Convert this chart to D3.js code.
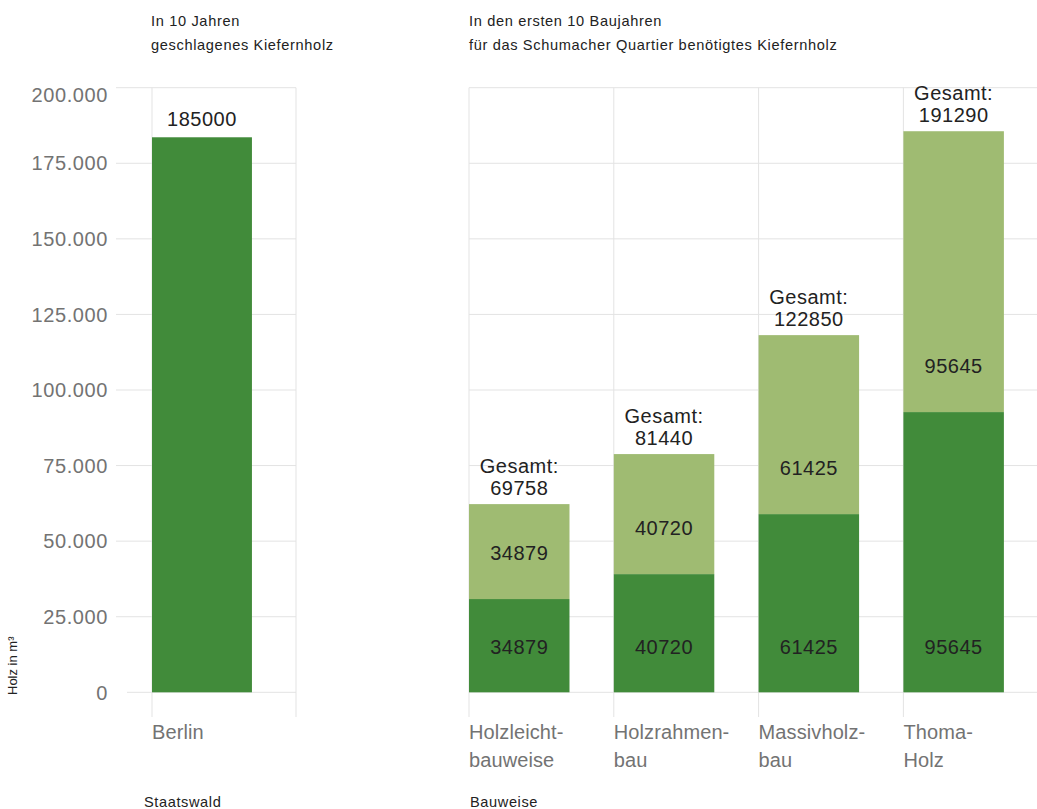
<!DOCTYPE html>
<html>
<head>
<meta charset="utf-8">
<script src="https://cdn.jsdelivr.net/npm/d3@7"></script>
<style>
  html, body { margin: 0; padding: 0; background: #fff; }
  svg { display: block; font-family: "Liberation Sans", Arial, sans-serif; }
</style>
</head>
<body>
<svg id="chart" width="1037" height="809"></svg>
<script>
// ---- data ----
const leftCategories = ["Berlin"];
const leftValues = [183600];           // bar height as drawn
const leftLabels = ["185000"];

const rightCategories = ["Holzleicht-\nbauweise", "Holzrahmen-\nbau", "Massivholz-\nbau", "Thoma-\nHolz"];
const lowerValues = [30850, 39100, 58950, 92700];  // dark segment, as drawn
const upperValues = [31400, 39700, 59200, 92900];  // light segment, as drawn
const lowerLabels = ["34879", "40720", "61425", "95645"];
const upperLabels = ["34879", "40720", "61425", "95645"];
const totalLabels = ["69758", "81440", "122850", "191290"];

const yTicks = [0, 25000, 50000, 75000, 100000, 125000, 150000, 175000, 200000];

const leftTitle = ["In 10 Jahren", "geschlagenes Kiefernholz"];
const rightTitle = ["In den ersten 10 Baujahren", "für das Schumacher Quartier benötigtes Kiefernholz"];
const leftXTitle = "Staatswald";
const rightXTitle = "Bauweise";
const yTitle = "Holz in m³";

// ---- styles ----
const darkGreen = "#418b3a";
const lightGreen = "#9fbb72";
const gridColor = "#e3e3e3";
const tickColor = "#737373";
const textColor = "#222";

const svg = d3.select("#chart");
const de = d3.formatLocale({decimal: ",", thousands: ".", grouping: [3], currency: ["", " €"]});
const fmt = de.format(",.0f");

const y = d3.scaleLinear().domain([0, 200000]).range([692.3, 87.7]);

const xLeft = d3.scaleBand().domain(leftCategories).range([152, 296]).paddingInner(0).paddingOuter(0);
const xRight = d3.scaleBand().domain(rightCategories).range([469, 469 + 4 * 144.8]).paddingInner(0).paddingOuter(0);
const barFrac = 0.694;

// ---- grid: left panel ----
const gLeft = svg.append("g");
gLeft.selectAll("line.h").data(yTicks).join("line")
  .attr("x1", d => d === 0 ? 127 : 116).attr("x2", 296)
  .attr("y1", d => y(d)).attr("y2", d => y(d))
  .attr("stroke", gridColor).attr("stroke-width", 1);
gLeft.selectAll("line.v").data([152, 296]).join("line")
  .attr("x1", d => d).attr("x2", d => d)
  .attr("y1", y(200000)).attr("y2", 717)
  .attr("stroke", gridColor).attr("stroke-width", 1);

// ---- grid: right panel ----
const gRight = svg.append("g");
const rightEdge = xRight.range()[1];
gRight.selectAll("line.h").data(yTicks).join("line")
  .attr("x1", 469).attr("x2", rightEdge)
  .attr("y1", d => y(d)).attr("y2", d => y(d))
  .attr("stroke", gridColor).attr("stroke-width", 1);
gRight.selectAll("line.v").data(rightCategories.map(c => xRight(c)).concat([rightEdge])).join("line")
  .attr("x1", d => d).attr("x2", d => d)
  .attr("y1", y(200000)).attr("y2", 717)
  .attr("stroke", gridColor).attr("stroke-width", 1);

// ---- y tick labels ----
const yMax = y.domain()[1];
svg.append("g").selectAll("text").data(yTicks).join("text")
  .attr("x", 108).attr("y", d => y(d) + (d === yMax ? 7 : 0))
  .attr("dy", "0.36em")
  .attr("text-anchor", "end")
  .attr("font-size", 20).attr("letter-spacing", 0.6)
  .attr("fill", tickColor)
  .text(d => fmt(d));

// ---- left bars ----
const bwL = xLeft.bandwidth() * barFrac;
svg.append("g").selectAll("rect").data(leftCategories).join("rect")
  .attr("x", d => xLeft(d)).attr("width", bwL)
  .attr("y", (d, i) => y(leftValues[i]))
  .attr("height", (d, i) => y(0) - y(leftValues[i]))
  .attr("fill", darkGreen);
svg.append("g").selectAll("text").data(leftCategories).join("text")
  .attr("x", d => xLeft(d) + bwL / 2)
  .attr("y", (d, i) => y(leftValues[i]) - 11)
  .attr("text-anchor", "middle").attr("font-size", 20).attr("letter-spacing", 0.5)
  .attr("fill", textColor)
  .text((d, i) => leftLabels[i]);

// ---- right stacked bars ----
const bwR = xRight.bandwidth() * barFrac;
const gBars = svg.append("g");
gBars.selectAll("rect.lower").data(rightCategories).join("rect")
  .attr("class", "lower")
  .attr("x", d => xRight(d)).attr("width", bwR)
  .attr("y", (d, i) => y(lowerValues[i]))
  .attr("height", (d, i) => y(0) - y(lowerValues[i]))
  .attr("fill", darkGreen);
gBars.selectAll("rect.upper").data(rightCategories).join("rect")
  .attr("class", "upper")
  .attr("x", d => xRight(d)).attr("width", bwR)
  .attr("y", (d, i) => y(lowerValues[i] + upperValues[i]))
  .attr("height", (d, i) => y(lowerValues[i]) - y(lowerValues[i] + upperValues[i]))
  .attr("fill", lightGreen);

// segment labels
gBars.selectAll("text.lowerlab").data(rightCategories).join("text")
  .attr("x", d => xRight(d) + bwR / 2)
  .attr("y", y(0) - 46).attr("dy", "0.36em")
  .attr("text-anchor", "middle").attr("font-size", 20).attr("letter-spacing", 0.5)
  .attr("fill", textColor)
  .text((d, i) => lowerLabels[i]);
gBars.selectAll("text.upperlab").data(rightCategories).join("text")
  .attr("x", d => xRight(d) + bwR / 2)
  .attr("y", (d, i) => y(lowerValues[i]) - 46).attr("dy", "0.36em")
  .attr("text-anchor", "middle").attr("font-size", 20).attr("letter-spacing", 0.5)
  .attr("fill", textColor)
  .text((d, i) => upperLabels[i]);
// totals
rightCategories.forEach((c, i) => {
  const top = y(lowerValues[i] + upperValues[i]);
  const t = gBars.append("text")
    .attr("x", xRight(c) + bwR / 2)
    .attr("text-anchor", "middle").attr("font-size", 20).attr("letter-spacing", 0.5)
    .attr("fill", textColor);
  t.append("tspan").attr("x", xRight(c) + bwR / 2).attr("y", top - 31).text("Gesamt:");
  t.append("tspan").attr("x", xRight(c) + bwR / 2).attr("y", top - 9.5).text(totalLabels[i]);
});

// ---- category labels ----
function catLabels(scale, cats) {
  cats.forEach(c => {
    const lines = c.split("\n");
    const t = svg.append("text").attr("font-size", 20).attr("letter-spacing", 0.1).attr("fill", tickColor);
    lines.forEach((ln, k) => {
      t.append("tspan").attr("x", scale(c)).attr("y", 739 + k * 27.5).text(ln);
    });
  });
}
catLabels(xLeft, leftCategories);
catLabels(xRight, rightCategories);

// ---- panel titles ----
function title(lines, x) {
  lines.forEach((ln, k) => {
    svg.append("text").attr("x", x).attr("y", 26 + k * 24)
      .attr("font-size", 14.6).attr("letter-spacing", 0.65).attr("fill", textColor).text(ln);
  });
}
title(leftTitle, 151);
title(rightTitle, 469);

// ---- axis titles ----
svg.append("text").attr("x", 144).attr("y", 807)
  .attr("font-size", 14.6).attr("letter-spacing", 0.6).attr("fill", textColor).text(leftXTitle);
svg.append("text").attr("x", 470).attr("y", 807)
  .attr("font-size", 14.6).attr("letter-spacing", 0.6).attr("fill", textColor).text(rightXTitle);
svg.append("text")
  .attr("transform", "translate(17,695) rotate(-90)")
  .attr("font-size", 13).attr("fill", textColor).text(yTitle);
</script>
</body>
</html>
